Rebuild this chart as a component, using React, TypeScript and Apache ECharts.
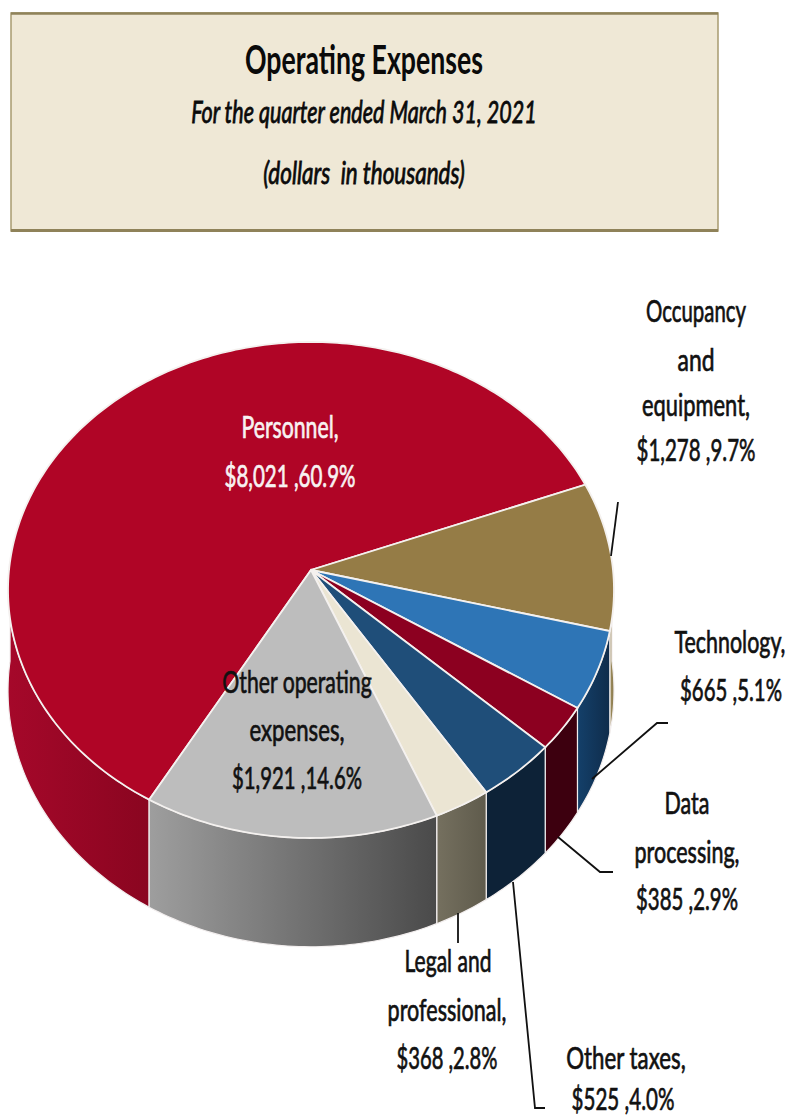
import React, { useEffect, useRef } from "react";
import * as echarts from "echarts";

// ---- data ----
const categories = ["Personnel", "Occupancy and equipment", "Technology", "Data processing", "Other taxes", "Legal and professional", "Other operating expenses"];
const amounts = [8021, 1278, 665, 385, 525, 368, 1921];
const percents = [60.9, 9.7, 5.1, 2.9, 4.0, 2.8, 14.6];
const topColors = ["#b00526", "#957c46", "#2e75b6", "#8c0020", "#1f4e79", "#ebe5d3", "#bdbdbd"];
const sideFrom = ["#a5082a", "#9a8a5a", "#14406a", "#3d000f", "#0d2237", "#75705f", "#9e9e9e"];
const sideTo = ["#8a0520", "#8d7d50", "#0f2c4b", "#3d000f", "#0d2237", "#5f5b4c", "#4a4a4a"];
const titleLines = ["Operating Expenses", "For the quarter ended March 31, 2021", "(dollars  in thousands)"];
const labelLines = [
  ["Personnel,", "$8,021 ,60.9%"],
  ["Occupancy", "and", "equipment,", "$1,278 ,9.7%"],
  ["Technology,", "$665 ,5.1%"],
  ["Data", "processing,", "$385 ,2.9%"],
  ["Other taxes,", "$525 ,4.0%"],
  ["Legal and", "professional,", "$368 ,2.8%"],
  ["Other operating", "expenses,", "$1,921 ,14.6%"],
];
// each line: centre x, centre y, width
const labelBoxes = [
  [[290, 426, 97], [290, 475, 131]],
  [[696, 310, 100], [696, 359, 37], [696, 404, 108], [696, 449, 119]],
  [[730, 641, 111], [731, 689, 102]],
  [[687, 802, 45], [687, 851, 105], [687, 898, 102]],
  [[626, 1057, 120], [623, 1098, 103]],
  [[448, 960, 87], [447, 1009, 119], [447, 1057, 101]],
  [[297, 681, 150], [297, 729, 95], [297, 777, 130]],
];
const leaders = [
  [[618, 502], [611, 556]],
  [[668, 723], [657, 723], [592, 779]],
  [[613, 872], [600, 872], [558, 837]],
  [[458, 913], [458, 943]],
  [[513, 882], [535, 1108], [545, 1108]],
];

// ---- geometry of the tilted disc ----
const CX = 311, CY = 570, RX = 302, RY = 246.4, K = 0.0806, DEPTH = 100, START = 209.9;

function project(deg: number, lower: boolean) {
  const a = (deg * Math.PI) / 180;
  const u = Math.sin(a), v = -Math.cos(a), w = 1 - K * v;
  return [CX + (RX * u) / w, CY + (RY * v) / w + (lower ? DEPTH / w : 0)];
}

function arc(from: number, to: number, lower: boolean) {
  const pts: number[][] = [];
  const n = Math.max(2, Math.ceil(Math.abs(to - from)));
  for (let i = 0; i <= n; i++) pts.push(project(from + ((to - from) * i) / n, lower));
  return pts;
}

const total = percents.reduce((s, p) => s + p, 0);

function fitScale(ctx: CanvasRenderingContext2D, text: string, font: string, width: number) {
  ctx.font = font;
  return width / ctx.measureText(text).width;
}

export default function App() {
  const ref = useRef<HTMLDivElement>(null);
  useEffect(() => {
    document.body.style.margin = "0";
    const chart = echarts.init(ref.current!, undefined, { renderer: "svg" });
    const ctx = document.createElement("canvas").getContext("2d")!;
    const FAMILY = "Lato";

    const textEl = (text: string, x: number, y: number, width: number, size: number, fill: string, italic: boolean, weight: string, heavy: number) => ({
      type: "text",
      x,
      y,
      z: 10,
      scaleX: fitScale(ctx, text, `${italic ? "italic " : ""}${weight} ${size}px ${FAMILY}`, width),
      style: {
        text,
        fill,
        stroke: fill,
        lineWidth: heavy,
        fontFamily: FAMILY,
        fontSize: size,
        fontWeight: weight,
        fontStyle: italic ? "italic" : "normal",
        textAlign: "center",
        textVerticalAlign: "middle",
      },
    });

    const labelEls: any[] = [];
    labelLines.forEach((lines, i) => {
      lines.forEach((line, j) => {
        const [x, y, w] = labelBoxes[i][j];
        labelEls.push(textEl(line, x, y, w, 31, i === 0 ? "#f8f2f2" : "#111111", false, "normal", 0.7));
      });
    });

    const leaderEls = leaders.map((points) => ({
      type: "polyline",
      z: 9,
      shape: { points },
      style: { stroke: "#111111", lineWidth: 1.8, fill: "none" },
    }));

    chart.setOption({
      animation: false,
      backgroundColor: "#ffffff",
      graphic: [
        { type: "rect", z: 1, shape: { x: 11, y: 13, width: 707, height: 218 }, style: { fill: "#efe8d6", stroke: "#a89a70", lineWidth: 1.5 } },
        { type: "line", z: 2, shape: { x1: 11, y1: 13.5, x2: 718, y2: 13.5 }, style: { stroke: "#8f8259", lineWidth: 2.5 } },
        { type: "line", z: 2, shape: { x1: 11, y1: 230.5, x2: 718, y2: 230.5 }, style: { stroke: "#8f8259", lineWidth: 3 } },
        textEl(titleLines[0], 364, 58, 238, 40, "#0a0a0a", false, "bold", 0),
        textEl(titleLines[1], 364, 112, 347, 30, "#0a0a0a", true, "normal", 0.8),
        textEl(titleLines[2], 364, 173, 202, 30, "#0a0a0a", true, "normal", 0.8),
        ...leaderEls,
        ...labelEls,
      ],
      series: [
        {
          type: "custom",
          coordinateSystem: "none",
          name: "Operating Expenses",
          data: categories.map((name, i) => ({ name, value: [percents[i], amounts[i]] })),
          renderItem: (params: any, api: any) => {
            const i = params.dataIndex;
            let before = 0;
            for (let j = 0; j < i; j++) before += percents[j];
            let s = START + (before / total) * 360;
            let e = s + (api.value(0) / total) * 360;
            if (s >= 360) { s -= 360; e -= 360; }
            const children: any[] = [];
            const from = Math.max(s, 88);
            const to = Math.min(e, 272);
            if (to > from) {
              children.push({
                type: "polygon",
                shape: { points: [...arc(from, to, false), ...arc(to, from, true)] },
                style: {
                  // sweep runs right to left on the side wall, so the bbox gradient is fixed left to right
                  fill: new echarts.graphic.LinearGradient(0, 0, 1, 0, [
                    { offset: 0, color: sideFrom[i] },
                    { offset: 1, color: sideTo[i] },
                  ]),
                  stroke: "#f2eeee",
                  lineWidth: 1.2,
                },
              });
            }
            children.push({
              type: "polygon",
              shape: { points: [[CX, CY], ...arc(s, e, false)] },
              style: { fill: topColors[i], stroke: "#f4f1ef", lineWidth: 1.8 },
            });
            return { type: "group", children };
          },
        },
      ],
    });
    return () => chart.dispose();
  }, []);
  return <div ref={ref} style={{ width: 789, height: 1118 }} />;
}
